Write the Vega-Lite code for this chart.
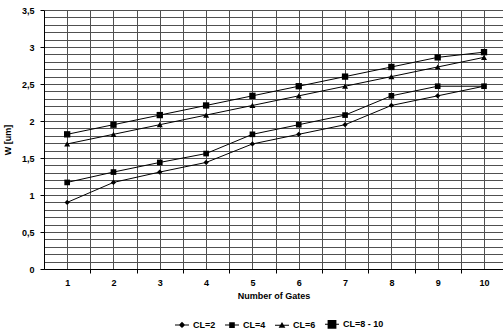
{
  "$schema": "https://vega.github.io/schema/vega-lite/v6.json",
  "autosize": "none",
  "width": 459,
  "height": 259,
  "padding": {"left": 44, "top": 10, "right": 0, "bottom": 62},
  "background": "white",
  "config": {
    "font": "Liberation Sans",
    "view": {"stroke": null},
    "axis": {"labelFont": "Liberation Sans", "titleFont": "Liberation Sans", "labelFontWeight": "bold", "titleFontWeight": "bold", "labelFontSize": 9, "titleFontSize": 9, "labelColor": "black", "titleColor": "black"}
  },
  "data": {
    "values": [
      {"gates": 1, "series": "CL=2", "w": 0.9},
      {"gates": 2, "series": "CL=2", "w": 1.17},
      {"gates": 3, "series": "CL=2", "w": 1.31},
      {"gates": 4, "series": "CL=2", "w": 1.44},
      {"gates": 5, "series": "CL=2", "w": 1.69},
      {"gates": 6, "series": "CL=2", "w": 1.82},
      {"gates": 7, "series": "CL=2", "w": 1.95},
      {"gates": 8, "series": "CL=2", "w": 2.21},
      {"gates": 9, "series": "CL=2", "w": 2.34},
      {"gates": 10, "series": "CL=2", "w": 2.47},
      {"gates": 1, "series": "CL=4", "w": 1.17},
      {"gates": 2, "series": "CL=4", "w": 1.31},
      {"gates": 3, "series": "CL=4", "w": 1.44},
      {"gates": 4, "series": "CL=4", "w": 1.56},
      {"gates": 5, "series": "CL=4", "w": 1.82},
      {"gates": 6, "series": "CL=4", "w": 1.95},
      {"gates": 7, "series": "CL=4", "w": 2.08},
      {"gates": 8, "series": "CL=4", "w": 2.34},
      {"gates": 9, "series": "CL=4", "w": 2.47},
      {"gates": 10, "series": "CL=4", "w": 2.47},
      {"gates": 1, "series": "CL=6", "w": 1.69},
      {"gates": 2, "series": "CL=6", "w": 1.82},
      {"gates": 3, "series": "CL=6", "w": 1.95},
      {"gates": 4, "series": "CL=6", "w": 2.08},
      {"gates": 5, "series": "CL=6", "w": 2.21},
      {"gates": 6, "series": "CL=6", "w": 2.34},
      {"gates": 7, "series": "CL=6", "w": 2.47},
      {"gates": 8, "series": "CL=6", "w": 2.6},
      {"gates": 9, "series": "CL=6", "w": 2.73},
      {"gates": 10, "series": "CL=6", "w": 2.86},
      {"gates": 1, "series": "CL=8 - 10", "w": 1.82},
      {"gates": 2, "series": "CL=8 - 10", "w": 1.95},
      {"gates": 3, "series": "CL=8 - 10", "w": 2.08},
      {"gates": 4, "series": "CL=8 - 10", "w": 2.21},
      {"gates": 5, "series": "CL=8 - 10", "w": 2.34},
      {"gates": 6, "series": "CL=8 - 10", "w": 2.47},
      {"gates": 7, "series": "CL=8 - 10", "w": 2.6},
      {"gates": 8, "series": "CL=8 - 10", "w": 2.73},
      {"gates": 9, "series": "CL=8 - 10", "w": 2.86},
      {"gates": 10, "series": "CL=8 - 10", "w": 2.93}
    ]
  },
  "encoding": {
    "x": {
      "field": "gates", "type": "quantitative",
      "scale": {"domain": [0.5, 10.41], "nice": false, "zero": false},
      "axis": {
        "title": "Number of Gates",
        "titlePadding": 4,
        "values": [1, 1.5, 2, 2.5, 3, 3.5, 4, 4.5, 5, 5.5, 6, 6.5, 7, 7.5, 8, 8.5, 9, 9.5, 10],
        "labelExpr": "datum.value % 1 == 0 ? format(datum.value, 'd') : ''",
        "labelPadding": 5,
        "grid": true,
        "gridColor": "#505050",
        "gridOpacity": 1,
        "tickColor": {"condition": {"test": "datum.value % 1 == 0", "value": "transparent"}, "value": "black"},
        "tickSize": 4,
        "domainColor": "black"
      }
    },
    "y": {
      "field": "w", "type": "quantitative",
      "scale": {"domain": [0, 3.5], "nice": false},
      "axis": {
        "title": "W [um]",
        "titlePadding": 9,
        "values": [0, 0.1, 0.2, 0.3, 0.4, 0.5, 0.6, 0.7, 0.8, 0.9, 1, 1.1, 1.2, 1.3, 1.4, 1.5, 1.6, 1.7, 1.8, 1.9, 2, 2.1, 2.2, 2.3, 2.4, 2.5, 2.6, 2.7, 2.8, 2.9, 3, 3.1, 3.2, 3.3, 3.4, 3.5],
        "labelExpr": "abs(datum.value * 2 - round(datum.value * 2)) < 0.001 ? replace(format(datum.value, '.1~f'), '.', ',') : ''",
        "grid": true,
        "gridColor": "#505050",
        "gridOpacity": 1,
        "tickColor": {"condition": {"test": "abs(datum.value * 2 - round(datum.value * 2)) < 0.001", "value": "black"}, "value": "transparent"},
        "tickSize": 4,
        "labelPadding": 6,
        "domainColor": "black"
      }
    }
  },
  "layer": [
    {
      "mark": {"type": "line", "color": "black", "strokeWidth": 1},
      "encoding": {"detail": {"field": "series"}}
    },
    {
      "mark": {"type": "point", "filled": true, "color": "black", "opacity": 1},
      "encoding": {
        "shape": {
          "field": "series", "type": "nominal",
          "scale": {"domain": ["CL=2", "CL=4", "CL=6", "CL=8 - 10"], "range": ["diamond", "square", "triangle-up", "square"]},
          "legend": null
        },
        "size": {
          "field": "series", "type": "nominal",
          "scale": {"domain": ["CL=2", "CL=4", "CL=6", "CL=8 - 10"], "range": [28, 40, 40, 90]},
          "legend": null
        }
      }
    },
    {
      "mark": {"type": "point", "filled": true, "color": "black", "opacity": 0},
      "encoding": {
        "shape": {
          "field": "series", "type": "nominal",
          "scale": {"domain": ["CL=2", "CL=4", "CL=6", "CL=8 - 10"], "range": [
            "M-0.875,-0.06L0.875,-0.06L0.875,0.06L-0.875,0.06Z M0,-0.4L0.4,0L0,0.4L-0.4,0Z",
            "M-0.875,-0.06L0.875,-0.06L0.875,0.06L-0.875,0.06Z M-0.35,-0.35L0.35,-0.35L0.35,0.35L-0.35,0.35Z",
            "M-0.875,-0.06L0.875,-0.06L0.875,0.06L-0.875,0.06Z M0,-0.42L0.42,0.3L-0.42,0.3Z",
            "M-0.875,-0.06L0.875,-0.06L0.875,0.06L-0.875,0.06Z M-0.55,-0.55L0.55,-0.55L0.55,0.55L-0.55,0.55Z"
          ]},
          "legend": {
            "title": null, "orient": "none", "direction": "horizontal", "legendX": 129, "legendY": 305,
            "labelFontWeight": "bold", "labelFontSize": 9, "labelFont": "Liberation Sans", "labelColor": "black",
            "labelOffset": 2, "columnPadding": 6, "symbolSize": 256,
            "encode": {"symbols": {"update": {
              "fill": {"value": "black"},
              "stroke": {"value": "black"},
              "strokeWidth": {"value": 0.5},
              "opacity": {"value": 1},
              "fillOpacity": {"value": 1},
              "strokeOpacity": {"value": 1}
            }}}
          }
        }
      }
    }
  ],
  "resolve": {"scale": {"shape": "independent"}}
}
